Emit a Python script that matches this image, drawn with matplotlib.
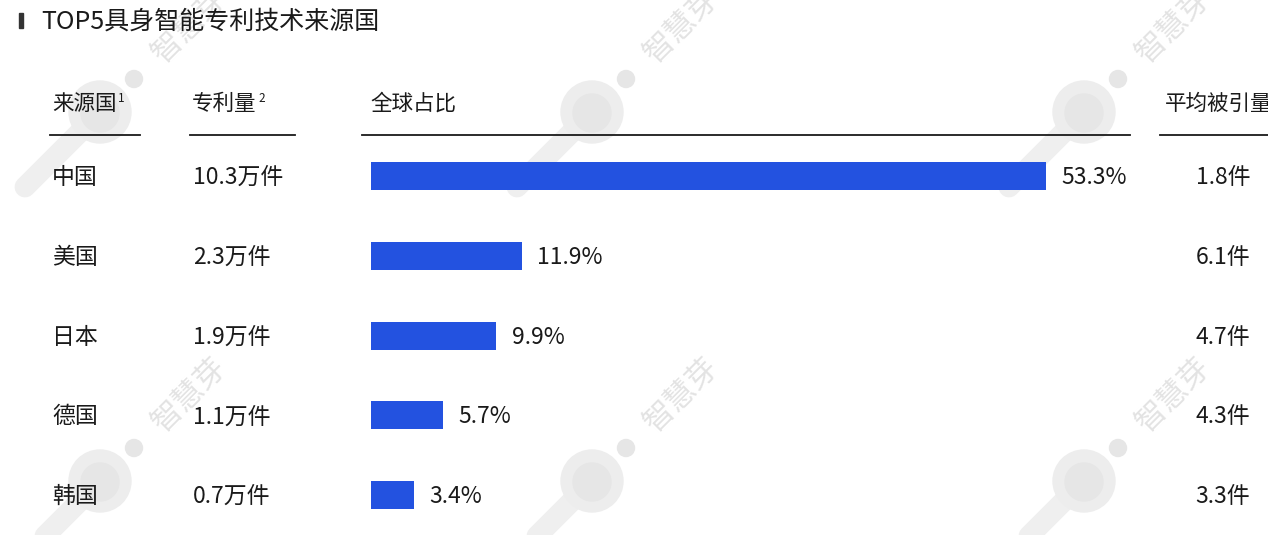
import matplotlib
matplotlib.use("Agg")
import matplotlib.pyplot as plt
from matplotlib.transforms import blended_transform_factory

plt.rcParams['font.family'] = ['Noto Sans CJK SC', 'DejaVu Sans']

title = "TOP5具身智能专利技术来源国"
countries = ["中国", "美国", "日本", "德国", "韩国"]
patents = ["10.3万件", "2.3万件", "1.9万件", "1.1万件", "0.7万件"]
share = [53.3, 11.9, 9.9, 5.7, 3.4]
citations = ["1.8件", "6.1件", "4.7件", "4.3件", "3.3件"]
headers = ["来源国", "专利量", "全球占比", "平均被引量"]

W, H = 1268, 535
BAR_COLOR = "#2352E0"
TEXT = "#1a1a1a"
FS = 16.5

fig = plt.figure(figsize=(W / 100, H / 100), dpi=100)

# watermark layer in pixel coordinates
bg = fig.add_axes([0, 0, 1, 1], zorder=0)
bg.axis("off")
bg.set_xlim(0, W)
bg.set_ylim(H, 0)
for cy in [112, 481]:
    for cx in [100, 592, 1084]:
        bg.plot([cx, cx - 75], [cy, cy + 75], color="#efefef", lw=15, solid_capstyle="round", zorder=1)
        bg.add_patch(plt.Circle((cx, cy), 31, color="#ededed", zorder=2))
        bg.add_patch(plt.Circle((cx, cy + 1), 19, color="#e6e6e6", zorder=2))
        bg.add_patch(plt.Circle((cx + 34, cy - 33), 8.5, color="#e6e6e6", zorder=2))
        bg.text(cx + 90, cy - 86, "智慧芽", rotation=45, fontsize=22, color="#e3e3e3",
                ha="center", va="center", zorder=2)

ax = fig.add_axes([0, 0, 1, 1], zorder=1)
ax.axis("off")
ax.patch.set_alpha(0)

# x: percent -> pixel 371 + 12.66*pct ; y: row index -> pixel 176 + 79.8*i
px_per_pct = 12.66
row_px = 79.8
ax.set_xlim(-371 / px_per_pct, (W - 371) / px_per_pct)
ax.set_ylim((H - 176) / row_px, -176 / row_px)

rows = list(range(len(countries)))
dy = 1.5 / row_px  # text sits a hair lower than bar centre
ax.barh(rows, share, height=28 / row_px, left=0, color=BAR_COLOR)
for i, v in enumerate(share):
    ax.text(v + 1.2, i + dy, f"{v}%", va="center", ha="left", fontsize=FS, color=TEXT)

tr = blended_transform_factory(fig.transFigure, ax.transData)
for i in rows:
    ax.text(52 / W, i + dy, countries[i], transform=tr, va="center", ha="left", fontsize=FS, color=TEXT)
    ax.text(193 / W, i + dy, patents[i], transform=tr, va="center", ha="left", fontsize=FS, color=TEXT)
    ax.text(1250 / W, i + dy, citations[i], transform=tr, va="center", ha="right", fontsize=FS, color=TEXT)

# title
fig.text(41 / W, 1 - 22 / H, title, fontsize=18, color=TEXT, va="center", ha="left")
fig.add_artist(plt.Rectangle((19 / W, 1 - 28 / H), 4 / W, 15 / H, transform=fig.transFigure, color="#333333"))

# headers
hx = [52, 192, 370, 1165]
for x, h in zip(hx, headers):
    fig.text(x / W, 1 - 104 / H, h, fontsize=15.5, color=TEXT, va="center", ha="left")
fig.text(118 / W, 1 - 98 / H, "1", fontsize=8.5, color=TEXT, va="center", ha="left")
fig.text(258 / W, 1 - 98 / H, "2", fontsize=8.5, color=TEXT, va="center", ha="left")

# header underlines
for x0, x1 in [(50, 140), (190, 295), (362, 1130), (1160, W)]:
    fig.add_artist(plt.Line2D([x0 / W, x1 / W], [1 - 135 / H, 1 - 135 / H], transform=fig.transFigure,
                              color="#1a1a1a", linewidth=1.3))

fig.savefig("out.png", dpi=100)
